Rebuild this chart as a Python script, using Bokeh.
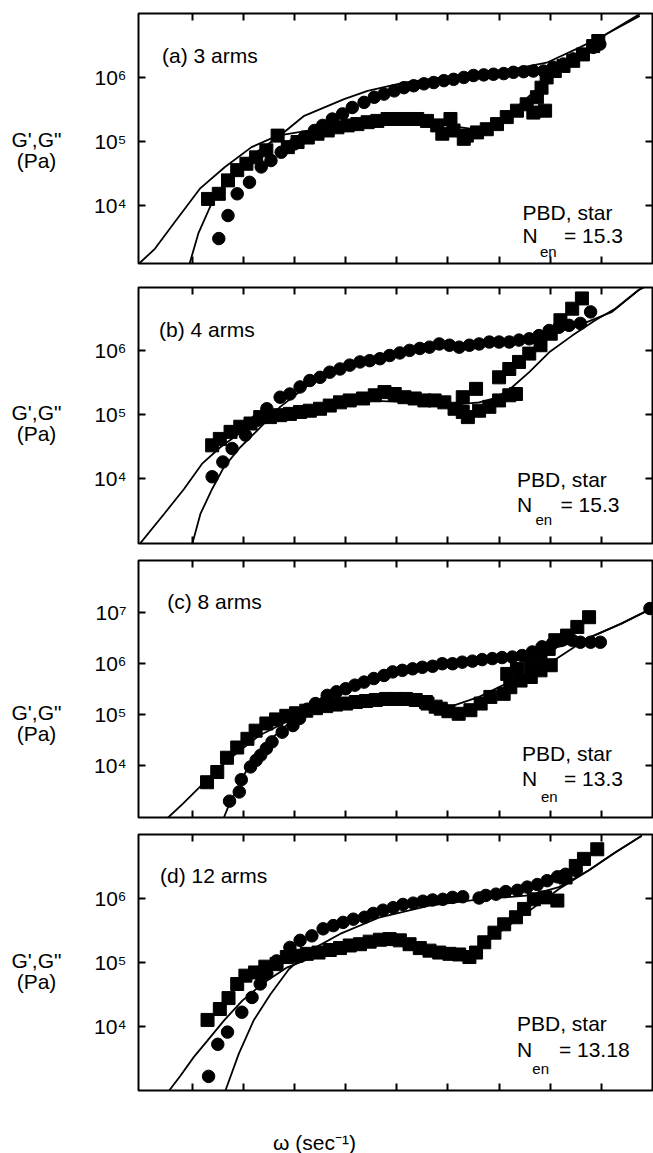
import numpy as np
from bokeh.plotting import figure
from bokeh.models import LogAxis, FixedTicker, Label, Range1d
from bokeh.layouts import column, row
from bokeh.embed import file_html
from bokeh.resources import INLINE

FONT = "Liberation Sans"
SUP = {3: "\u00b3", 4: "\u2074", 5: "\u2075", 6: "\u2076", 7: "\u2077", 8: "\u2078"}

# ---- data: log10(omega) and log10(G) ----
# (a) 3 arms
a_gp_w = [-1.48,-1.30,-1.12,-0.88,-0.65,-0.46,-0.26,0.00,0.19,0.39,0.55,0.74,0.94,1.13,1.36,1.56,1.75,1.95,2.14,2.33,2.53,2.72,2.92,3.11,3.31,3.50,3.70,3.89,4.09,4.28,4.48,4.67,4.87,5.06,5.26,5.45,5.64,5.84,5.97]
a_gp_g = [3.48,3.84,4.18,4.36,4.60,4.70,4.83,4.96,5.06,5.17,5.25,5.35,5.43,5.53,5.61,5.69,5.74,5.79,5.84,5.87,5.90,5.92,5.95,5.97,6.00,6.03,6.04,6.05,6.06,6.08,6.09,6.10,6.10,6.16,6.21,6.29,6.36,6.47,6.52]
a_gpp_w = [-1.69,-1.48,-1.30,-1.12,-0.94,-0.75,-0.55,-0.33,-0.13,0.06,0.26,0.45,0.65,0.84,1.04,1.23,1.43,1.62,1.82,2.01,2.21,2.40,2.59,2.79,2.89,3.05,3.11,3.31,3.37,3.57,3.76,3.96,4.15,4.35,4.54,4.74,4.67,4.90,4.93,5.09,5.26,5.45,5.64,5.84,5.94,4.83]
a_gpp_g = [4.10,4.18,4.39,4.55,4.65,4.75,4.86,5.09,4.91,4.99,5.06,5.12,5.17,5.22,5.25,5.27,5.30,5.32,5.35,5.35,5.35,5.35,5.32,5.25,5.12,5.35,5.17,5.04,5.09,5.14,5.19,5.27,5.38,5.48,5.58,5.69,5.45,5.48,6.00,6.10,6.18,6.26,6.36,6.49,6.57,5.84]
a_mgpp_w = [-3.05,-2.73,-2.34,-1.85,-1.36,-0.84,-0.33,0.45,1.36,2.33,2.98,3.50,3.96,4.41,4.93,5.58,6.10,6.75]
a_mgpp_g = [3.08,3.32,3.74,4.26,4.60,4.91,5.09,5.19,5.30,5.32,5.25,5.19,5.32,5.58,5.95,6.36,6.68,6.99]
a_mgp_w = [-2.05,-1.88,-1.62,-1.30,-0.84,-0.33,0.19,0.97,1.43,2.14,2.98,3.63,4.28,4.93,5.58,6.10,6.75]
a_mgp_g = [3.09,3.56,4.03,4.44,4.78,5.06,5.40,5.66,5.79,5.92,6.01,6.08,6.13,6.23,6.47,6.68,6.96]

# (b) 4 arms
b_gp_w = [-1.61,-1.40,-1.22,-0.96,-0.73,-0.54,-0.28,-0.09,0.11,0.30,0.50,0.69,0.89,1.08,1.28,1.47,1.67,1.86,2.06,2.25,2.45,2.64,2.83,3.03,3.22,3.42,3.61,3.81,4.00,4.20,4.39,4.59,4.78,4.98,5.17,5.37,5.59,5.79]
b_gp_g = [4.03,4.26,4.47,4.68,4.91,5.09,5.27,5.32,5.43,5.53,5.58,5.66,5.71,5.77,5.82,5.84,5.87,5.92,5.96,6.00,6.03,6.05,6.10,6.08,6.05,6.08,6.10,6.13,6.13,6.13,6.16,6.18,6.23,6.31,6.36,6.39,6.42,6.60]
b_gpp_w = [-1.61,-1.46,-1.25,-1.06,-0.86,-0.67,-0.48,-0.28,-0.09,0.11,0.30,0.50,0.69,0.89,1.08,1.34,1.57,1.76,1.96,2.15,2.35,2.54,2.74,2.93,3.13,3.29,3.39,3.29,3.55,3.61,3.81,4.00,4.20,4.33,4.00,4.20,4.39,4.59,4.81,5.01,5.20,5.43,5.62]
b_gpp_g = [4.52,4.62,4.73,4.81,4.86,4.96,4.96,4.99,5.01,5.04,5.06,5.09,5.14,5.19,5.22,5.25,5.30,5.35,5.32,5.27,5.25,5.22,5.22,5.19,5.09,5.04,4.96,5.27,5.40,5.06,5.12,5.22,5.30,5.32,5.58,5.71,5.82,5.95,6.08,6.26,6.47,6.65,6.81]
b_mgpp_w = [-3.05,-2.55,-2.16,-1.81,-1.45,-1.00,-0.48,0.43,1.34,2.32,2.96,3.61,3.94,4.26,4.59,4.98,5.43,5.88,6.27,6.73,6.96]
b_mgpp_g = [2.96,3.45,3.84,4.23,4.49,4.75,4.96,5.09,5.22,5.19,5.14,5.19,5.26,5.43,5.66,5.97,6.23,6.47,6.65,6.94,7.04]
b_mgp_w = [-2.00,-1.84,-1.61,-1.38,-1.06,-0.73,-0.28,0.30,1.02,1.99,2.96,3.94,4.92,5.56,6.21,6.73,6.96]
b_mgp_g = [2.98,3.45,3.84,4.18,4.49,4.75,5.12,5.48,5.71,5.95,6.05,6.13,6.23,6.39,6.60,6.94,7.04]

# (c) 8 arms
c_gp_w = [-1.27,-1.08,-1.04,-0.86,-0.75,-0.66,-0.55,-0.44,-0.24,-0.03,0.10,0.25,0.41,0.64,0.82,1.00,1.18,1.36,1.55,1.75,1.92,2.11,2.31,2.50,2.70,2.89,3.09,3.28,3.48,3.67,3.87,4.06,4.26,4.45,4.65,4.84,5.04,5.23,5.43,5.59,5.79,5.98,6.95]
c_gp_g = [3.30,3.48,3.72,3.97,4.10,4.20,4.33,4.46,4.65,4.78,4.92,5.10,5.21,5.37,5.44,5.50,5.57,5.63,5.70,5.76,5.83,5.86,5.89,5.92,5.94,5.99,5.99,6.02,6.04,6.07,6.09,6.11,6.12,6.15,6.22,6.32,6.38,6.45,6.45,6.41,6.41,6.41,7.07]
c_gpp_w = [-1.71,-1.51,-1.32,-1.12,-0.92,-0.76,-0.55,-0.36,-0.16,0.03,0.23,0.42,0.62,0.81,1.01,1.20,1.40,1.59,1.79,1.98,2.18,2.37,2.57,2.60,2.76,2.86,3.01,3.21,3.44,3.64,3.83,4.09,4.22,4.42,4.62,4.81,5.01,4.16,4.35,4.62,4.81,4.97,5.10,5.33,5.53,5.76]
c_gpp_g = [3.67,3.87,4.15,4.35,4.52,4.68,4.82,4.90,4.97,5.02,5.07,5.12,5.16,5.19,5.21,5.24,5.26,5.28,5.30,5.30,5.30,5.28,5.24,5.21,5.15,5.11,5.06,5.01,5.08,5.21,5.34,5.40,5.53,5.66,5.73,5.86,5.96,5.79,5.89,5.99,6.12,6.28,6.45,6.54,6.71,6.90]
c_mgpp_w = [-2.47,-2.18,-1.85,-1.53,-1.14,-0.68,-0.16,0.68,1.66,2.50,3.02,3.61,4.26,4.78,5.13,5.72,6.38,6.90]
c_mgpp_g = [2.98,3.25,3.58,3.90,4.23,4.59,4.85,5.11,5.30,5.27,5.14,5.34,5.66,5.90,6.09,6.48,6.77,7.03]
c_mgp_w = [-1.38,-1.27,-1.10,-0.94,-0.71,-0.42,0.03,0.55,1.33,2.31,3.28,4.26,4.91,5.72,6.38,6.90]
c_mgp_g = [2.98,3.25,3.58,3.90,4.23,4.55,4.95,5.34,5.66,5.89,6.02,6.12,6.25,6.48,6.77,7.03]

# (d) 12 arms
d_gp_w = [-1.68,-1.50,-1.31,-1.03,-0.83,-0.67,-0.54,-0.35,-0.09,0.11,0.34,0.56,0.76,0.95,1.15,1.37,1.54,1.73,1.93,2.12,2.32,2.51,2.70,2.90,3.09,3.29,3.61,3.74,3.94,4.13,4.36,4.55,4.75,4.94,5.14,5.30,5.50]
d_gp_g = [3.22,3.72,3.91,4.22,4.45,4.66,4.82,5.02,5.23,5.34,5.41,5.52,5.57,5.62,5.67,5.70,5.76,5.81,5.85,5.90,5.92,5.95,5.97,5.98,6.01,6.02,6.00,6.04,6.06,6.10,6.12,6.17,6.21,6.27,6.33,6.37,6.43]
d_gpp_w = [-1.70,-1.46,-1.29,-1.12,-0.96,-0.77,-0.57,-0.35,-0.15,0.04,0.24,0.47,0.69,0.89,1.08,1.28,1.47,1.67,1.86,2.06,2.25,2.45,2.64,2.83,3.03,3.22,3.42,3.55,3.71,3.91,4.10,4.33,4.49,4.68,4.90,5.14,5.30,5.50,5.66,5.92]
d_gpp_g = [4.10,4.27,4.44,4.66,4.79,4.84,4.93,4.97,5.08,5.10,5.13,5.15,5.19,5.22,5.26,5.28,5.32,5.35,5.36,5.34,5.28,5.22,5.18,5.15,5.13,5.12,5.08,5.15,5.31,5.46,5.59,5.70,5.83,5.98,6.01,5.96,6.32,6.50,6.61,6.76]
d_mgpp_w = [-2.45,-2.23,-1.97,-1.71,-1.38,-1.02,-0.60,-0.14,0.69,1.73,2.64,3.42,3.94,4.59,5.17,5.75,6.27,6.79]
d_mgpp_g = [3.00,3.23,3.52,3.77,4.09,4.40,4.68,4.92,5.18,5.34,5.21,5.10,5.43,5.80,6.14,6.43,6.71,6.97]
d_mgp_w = [-1.35,-1.09,-0.80,-0.47,-0.11,0.30,0.89,1.67,2.64,3.61,4.59,5.17,5.75,6.27,6.79]
d_mgp_g = [3.00,3.57,4.09,4.50,4.89,5.18,5.44,5.70,5.88,5.98,6.04,6.17,6.43,6.71,6.97]

x_tick_exps = [-2, -1, 0, 1, 2, 3, 4, 5, 6]
titles = ["(a) 3 arms", "(b) 4 arms", "(c) 8 arms", "(d) 12 arms"]
nen_values = ["15.3", "15.3", "13.3", "13.18"]
y_tick_exps = [[4, 5, 6], [4, 5, 6], [4, 5, 6, 7], [4, 5, 6]]


def pw(e):
    return [10.0 ** v for v in e]


LEFT_W = 88   # width of the column holding the y-axis title
layout_cfg = [
    dict(h=275, top=13, bottom=12, ylo=3.09, yhi=7.00, title=(-2.59, 6.35), pbd=(4.46, 3.89), n=(4.46, 3.53), en=(4.80, 3.28), eq=(5.27, 3.53), yl=(5.03, 4.70)),
    dict(h=278, top=12, bottom=10, ylo=2.99, yhi=6.98, title=(-2.65, 6.33), pbd=(4.35, 3.99), n=(4.35, 3.60), en=(4.71, 3.37), eq=(5.20, 3.60), yl=(5.03, 4.70)),
    dict(h=272, top=7, bottom=8, ylo=2.98, yhi=8.01, title=(-2.49, 7.21), pbd=(4.45, 4.23), n=(4.45, 3.74), en=(4.82, 3.39), eq=(5.27, 3.74), yl=(5.04, 4.63)),
    dict(h=267, top=9, bottom=2, ylo=3.00, yhi=6.99, title=(-2.63, 6.35), pbd=(4.35, 4.04), n=(4.35, 3.64), en=(4.65, 3.35), eq=(5.17, 3.64), yl=(5.03, 4.70)),
]

data = [
    (a_gp_w, a_gp_g, a_gpp_w, a_gpp_g, a_mgp_w, a_mgp_g, a_mgpp_w, a_mgpp_g),
    (b_gp_w, b_gp_g, b_gpp_w, b_gpp_g, b_mgp_w, b_mgp_g, b_mgpp_w, b_mgpp_g),
    (c_gp_w, c_gp_g, c_gpp_w, c_gpp_g, c_mgp_w, c_mgp_g, c_mgpp_w, c_mgpp_g),
    (d_gp_w, d_gp_g, d_gpp_w, d_gpp_g, d_mgp_w, d_mgp_g, d_mgpp_w, d_mgpp_g),
]

FS = "21px"


def style_axis(ax, ticks, labels=None):
    ax.ticker = FixedTicker(ticks=ticks, minor_ticks=[])
    ax.axis_line_color = None
    ax.major_tick_in = 7
    ax.major_tick_out = 0
    ax.major_tick_line_width = 2
    ax.major_tick_line_color = "black"
    ax.minor_tick_line_color = None
    if labels is None:
        ax.major_label_overrides = {t: " " for t in ticks}
        ax.major_label_text_font_size = "1px"
        ax.major_label_text_alpha = 0
        ax.major_label_standoff = 0
    else:
        ax.major_label_overrides = labels
        ax.major_label_text_font = FONT
        ax.major_label_text_font_size = FS
        ax.major_label_text_color = "black"
        ax.major_label_standoff = 12


def lab(p, x, y, text, size=FS, align="left"):
    p.add_layout(Label(x=x, y=y, text=text, text_font=FONT,
                       text_font_size=size, text_color="black",
                       text_baseline="middle", text_align=align))


def bare(width, height, x_range, y_range, y_log=False, top=0, bottom=0):
    q = figure(width=width, height=height, x_range=x_range, y_range=y_range,
               y_axis_type="log" if y_log else "linear",
               x_axis_location=None, y_axis_location=None,
               output_backend="svg", toolbar_location=None,
               min_border_left=0, min_border_right=0,
               min_border_top=top, min_border_bottom=bottom)
    q.grid.visible = False
    q.outline_line_color = None
    return q


rows = []
for i, cfg in enumerate(layout_cfg):
    gpw, gpg, gppw, gppg, mgpw, mgpg, mgppw, mgppg = data[i]
    yr = Range1d(10 ** cfg["ylo"], 10 ** cfg["yhi"])
    p = figure(width=653 - LEFT_W, height=cfg["h"], x_axis_type="log", y_axis_type="log",
               x_range=Range1d(10 ** -3.05, 10 ** 7.0), y_range=yr,
               output_backend="svg", toolbar_location=None,
               min_border_left=138 - LEFT_W, min_border_right=1,
               min_border_top=cfg["top"], min_border_bottom=cfg["bottom"])
    p.grid.visible = False
    p.outline_line_color = "black"
    p.outline_line_width = 2

    xt = [10.0 ** e for e in x_tick_exps]
    yt = [10.0 ** e for e in y_tick_exps[i]]
    style_axis(p.xaxis[0], xt)
    style_axis(p.yaxis[0], yt, {10.0 ** e: "10" + SUP[e] for e in y_tick_exps[i]})
    top_ax = LogAxis()
    style_axis(top_ax, xt)
    p.add_layout(top_ax, "above")
    right_ax = LogAxis()
    style_axis(right_ax, yt)
    p.add_layout(right_ax, "right")

    p.line(pw(mgppw), pw(mgppg), line_color="black", line_width=1.8)
    p.line(pw(mgpw), pw(mgpg), line_color="black", line_width=1.8)
    p.scatter(pw(gppw), pw(gppg), marker="square", size=13, color="black")
    p.scatter(pw(gpw), pw(gpg), marker="circle", size=12.5, color="black")

    def L(key, text, size=FS):
        lx, ly = cfg[key]
        lab(p, 10.0 ** lx, 10.0 ** ly, text, size=size)

    L("title", titles[i])
    L("pbd", "PBD, star")
    L("n", "N")
    L("en", "en", size="15px")
    L("eq", "= " + nen_values[i])

    # y-axis title column, sharing the panel's vertical scale
    q = bare(LEFT_W, cfg["h"], Range1d(0, LEFT_W), Range1d(10 ** cfg["ylo"], 10 ** cfg["yhi"]),
             y_log=True, top=cfg["top"], bottom=cfg["bottom"])
    lab(q, 36, 10.0 ** cfg["yl"][0], "G',G\"", align="center")
    lab(q, 36, 10.0 ** cfg["yl"][1], "(Pa)", align="center")
    rows.append(row(q, p, spacing=0))

# x-axis title strip
XH = 1153 - sum(c["h"] for c in layout_cfg)
xs = bare(653, XH, Range1d(0, 653), Range1d(0, XH))
lab(xs, 314, XH - (1142 - (1153 - XH)), "\u03c9 (sec\u207b\u00b9)", align="center")

layout = column(*rows, xs, spacing=0)
open("out.html", "w").write(file_html(layout, INLINE))
